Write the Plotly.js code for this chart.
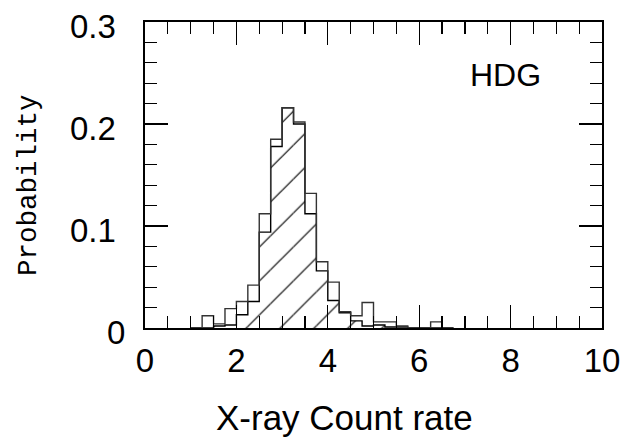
<!DOCTYPE html>
<html><head><meta charset="utf-8">
<script src="https://cdn.plot.ly/plotly-3.0.1.min.js"></script>
<style>html,body{margin:0;padding:0;background:#fff}#chart{width:629px;height:439px}</style>
</head><body><div id="chart"></div>
<script>
// Histogram bins (left edges) and probabilities
const binLeft = [1.0, 1.25, 1.5, 1.75, 2.0, 2.25, 2.5, 2.75, 3.0, 3.25, 3.5, 3.75, 4.0, 4.25, 4.5, 4.75, 5.0, 5.25, 5.5, 5.75, 6.0, 6.25, 6.5];
const binWidth = 0.25;
const totalProb = [0, 0.012, 0.004, 0.019, 0.026, 0.042, 0.112, 0.185, 0.216, 0.202, 0.132, 0.065, 0.045, 0.016, 0.012, 0.025, 0.006, 0.006, 0.002, 0, 0, 0.006, 0];
const hatchedProb = [0, 0, 0.002, 0.003, 0.013, 0.026, 0.094, 0.178, 0.216, 0.200, 0.112, 0.056, 0.027, 0.015, 0.007, 0.002, 0.003, 0.001, 0.001, 0, 0, 0, 0];
const xTickVals = [0, 2, 4, 6, 8, 10];
const yTickVals = [0, 0.1, 0.2, 0.3];
const yTickText = ['0', '0.1', '0.2', '0.3'];
const xTitle = 'X-ray Count rate';
const yTitle = 'Probability';
const panelLabel = 'HDG';

function stepXY(lefts, vals, w) {
  const xs = [lefts[0]].concat(lefts, [lefts[lefts.length - 1] + w]);
  const ys = [0].concat(vals, [0]);
  return {xs, ys};
}
const tot = stepXY(binLeft, totalProb, binWidth);
const hat = stepXY(binLeft, hatchedProb, binWidth);

const sans = 'Liberation Sans, Arial, sans-serif';

const traces = [
  {type: 'bar', x: binLeft, y: hatchedProb, width: binWidth, offset: 0,
   marker: {color: 'rgba(0,0,0,0)', line: {width: 0},
            pattern: {shape: '/', size: 24, solidity: 0.05, fgcolor: '#000', bgcolor: 'rgba(0,0,0,0)'}},
   hoverinfo: 'skip', showlegend: false},
  {type: 'scatter', mode: 'lines', x: hat.xs, y: hat.ys, line: {shape: 'hv', color: '#000', width: 1.4}, showlegend: false, hoverinfo: 'skip'},
  {type: 'scatter', mode: 'lines', x: tot.xs, y: tot.ys, line: {shape: 'hv', color: '#333', width: 1.4}, showlegend: false, hoverinfo: 'skip'}
];

const annotations = yTickVals.map((v, i) => ({
  xref: 'paper', yref: 'y', x: v === 0 ? -0.04 : -0.059, y: v, xanchor: 'right', yanchor: 'middle',
  text: yTickText[i], showarrow: false, yshift: -4, font: {family: sans, size: 33, color: '#000'}
}));
annotations.push({xref: 'paper', yref: 'paper', x: -0.256, y: 0.467, text: yTitle, textangle: -90,
  showarrow: false, xanchor: 'center', yanchor: 'middle', font: {family: 'Liberation Mono, Courier New, monospace', size: 27.5, color: '#000'}});
annotations.push({xref: 'paper', yref: 'paper', x: 0.4365, y: -0.292, text: xTitle, showarrow: false,
  xanchor: 'center', yanchor: 'middle', font: {family: sans, size: 35, color: '#000'}});
annotations.push({xref: 'paper', yref: 'paper', x: 0.788, y: 0.827, text: panelLabel, showarrow: false,
  xanchor: 'center', yanchor: 'middle', font: {family: sans, size: 32, color: '#000'}});

const layout = {
  width: 629, height: 439,
  margin: {l: 145, r: 27, t: 22, b: 111},
  paper_bgcolor: '#fff', plot_bgcolor: '#fff',
  barmode: 'overlay', showlegend: false,
  xaxis: {range: [0, 10], tickvals: xTickVals, ticktext: xTickVals.map(String),
    ticks: 'inside', ticklen: 23, tickwidth: 1.3, tickcolor: '#000',
    minor: {dtick: 0.5, tick0: 0, ticks: 'inside', ticklen: 12, tickwidth: 1.2, tickcolor: '#000', showgrid: false},
    showline: true, linewidth: 2, linecolor: '#000', mirror: 'allticks',
    showgrid: false, zeroline: false, tickfont: {family: sans, size: 33, color: '#000'},
    ticklabelstandoff: 2},
  yaxis: {range: [0, 0.3], tickvals: yTickVals, showticklabels: false,
    ticks: 'inside', ticklen: 23, tickwidth: 1.3, tickcolor: '#000',
    minor: {dtick: 0.02, tick0: 0, ticks: 'inside', ticklen: 12, tickwidth: 1.2, tickcolor: '#000', showgrid: false},
    showline: true, linewidth: 2, linecolor: '#000', mirror: 'allticks',
    showgrid: false, zeroline: false},
  annotations: annotations
};

Plotly.newPlot('chart', traces, layout, {staticPlot: true, displayModeBar: false});
</script>
</body></html>
